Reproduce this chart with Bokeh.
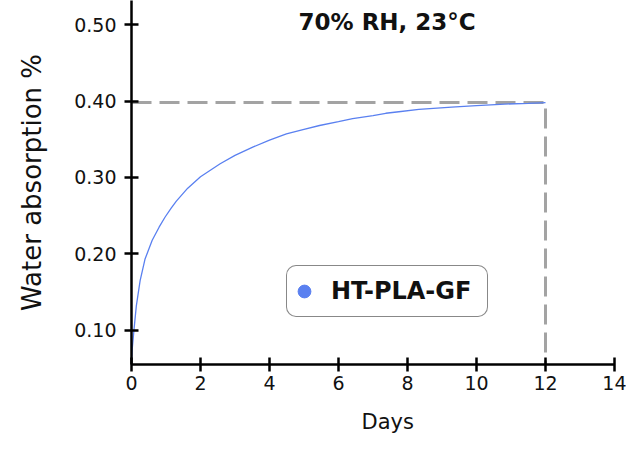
from bokeh.plotting import figure
from bokeh.models import (Range1d, FixedTicker, Label, Legend, LegendItem,
                          NumeralTickFormatter, Title)
from bokeh.embed import file_html
from bokeh.resources import INLINE

# ---- data ----
days = [0, 0.02, 0.07, 0.14, 0.25, 0.39, 0.6, 0.8, 0.97, 1.15, 1.3, 1.63,
        2.0, 2.57, 3.0, 3.53, 4.0, 4.49, 5.0, 5.45, 6.0, 6.41, 7.0, 7.37,
        7.75, 8.33, 9.28, 10.0, 10.82, 11.5, 12.0]
absorption = [0.057, 0.075, 0.100, 0.132, 0.165, 0.193, 0.218, 0.235, 0.248,
              0.260, 0.269, 0.286, 0.301, 0.318, 0.329, 0.340, 0.349, 0.357,
              0.363, 0.368, 0.373, 0.377, 0.381, 0.384, 0.386, 0.389, 0.392,
              0.394, 0.396, 0.397, 0.398]
plateau_value = 0.398
plateau_day = 12
series_name = "HT-PLA-GF"
subtitle = "70% RH, 23°C"
x_label = "Days"
y_label = "Water absorption %"
x_ticks = [0, 2, 4, 6, 8, 10, 12, 14]
y_ticks = [0.10, 0.20, 0.30, 0.40, 0.50]

FONT = "DejaVu Sans"
BLUE = "#5a80f0"
GRAY = "#a3a3a3"
INK = "#111111"

y_min, y_max = 0.0554, 0.5315

p = figure(width=626, height=448, output_backend="svg", toolbar_location=None,
           x_range=Range1d(0, 14), y_range=Range1d(y_min, y_max),
           min_border_left=131, min_border_right=12, min_border_top=0,
           min_border_bottom=72)
p.outline_line_color = None
p.grid.visible = False
p.background_fill_color = "white"
p.border_fill_color = "white"

# dashed guide lines
p.line([0, plateau_day, plateau_day], [plateau_value, plateau_value, y_min],
       line_color=GRAY, line_width=3, line_dash="20 8")

# curve
p.line(days, absorption, line_color=BLUE, line_width=1.3)

# legend with a circle marker (renderer holds no visible point)
dummy = p.scatter(x=[float("nan")], y=[float("nan")], marker="circle",
                  size=12, fill_color=BLUE, line_color=BLUE)
legend = Legend(items=[LegendItem(label=series_name, renderers=[dummy])],
                location=(155, 47), orientation="vertical")
legend.padding = 1
legend.margin = 0
legend.spacing = 0
legend.glyph_width = 32
legend.glyph_height = 48
legend.label_height = 48
legend.label_standoff = 11
legend.label_width = 155
legend.label_text_font = FONT
legend.label_text_font_size = "24px"
legend.label_text_font_style = "bold"
legend.label_text_color = INK
legend.label_text_baseline = "middle"
legend.border_line_color = INK
legend.border_line_width = 1.5
legend.background_fill_color = "white"
legend.background_fill_alpha = 1
try:
    legend.border_radius = 10
except Exception:
    pass
p.add_layout(legend)

for ax in (p.xaxis, p.yaxis):
    ax.axis_line_width = 2.5
    ax.axis_line_color = "black"
    ax.major_tick_line_width = 2.5
    ax.major_tick_line_color = "black"
    ax.major_tick_in = 7
    ax.major_tick_out = 7
    ax.minor_tick_line_color = None
    ax.major_label_text_font = FONT
    ax.major_label_text_font_size = "19px"
    ax.major_label_text_color = INK

p.xaxis.ticker = FixedTicker(ticks=x_ticks)
p.yaxis.ticker = FixedTicker(ticks=y_ticks)
p.yaxis.formatter = NumeralTickFormatter(format="0.00")
p.xaxis.major_label_standoff = 4
p.yaxis.major_label_standoff = 8

p.yaxis.axis_label = y_label
p.yaxis.axis_label_text_font = FONT
p.yaxis.axis_label_text_font_size = "26px"
p.yaxis.axis_label_text_font_style = "normal"
p.yaxis.axis_label_text_color = INK
p.yaxis.axis_label_standoff = 24

p.add_layout(Title(text=x_label, align="left", offset=230,
                   text_font=FONT, text_font_size="21px",
                   text_font_style="normal", text_color=INK,
                   standoff=30), "below")

p.add_layout(Label(x=7.41, y=0.5036, text=subtitle, text_align="center",
                   text_baseline="alphabetic", text_font=FONT,
                   text_font_size="23px", text_font_style="bold",
                   text_color=INK))

open("out.html", "w").write(file_html(p, INLINE))
